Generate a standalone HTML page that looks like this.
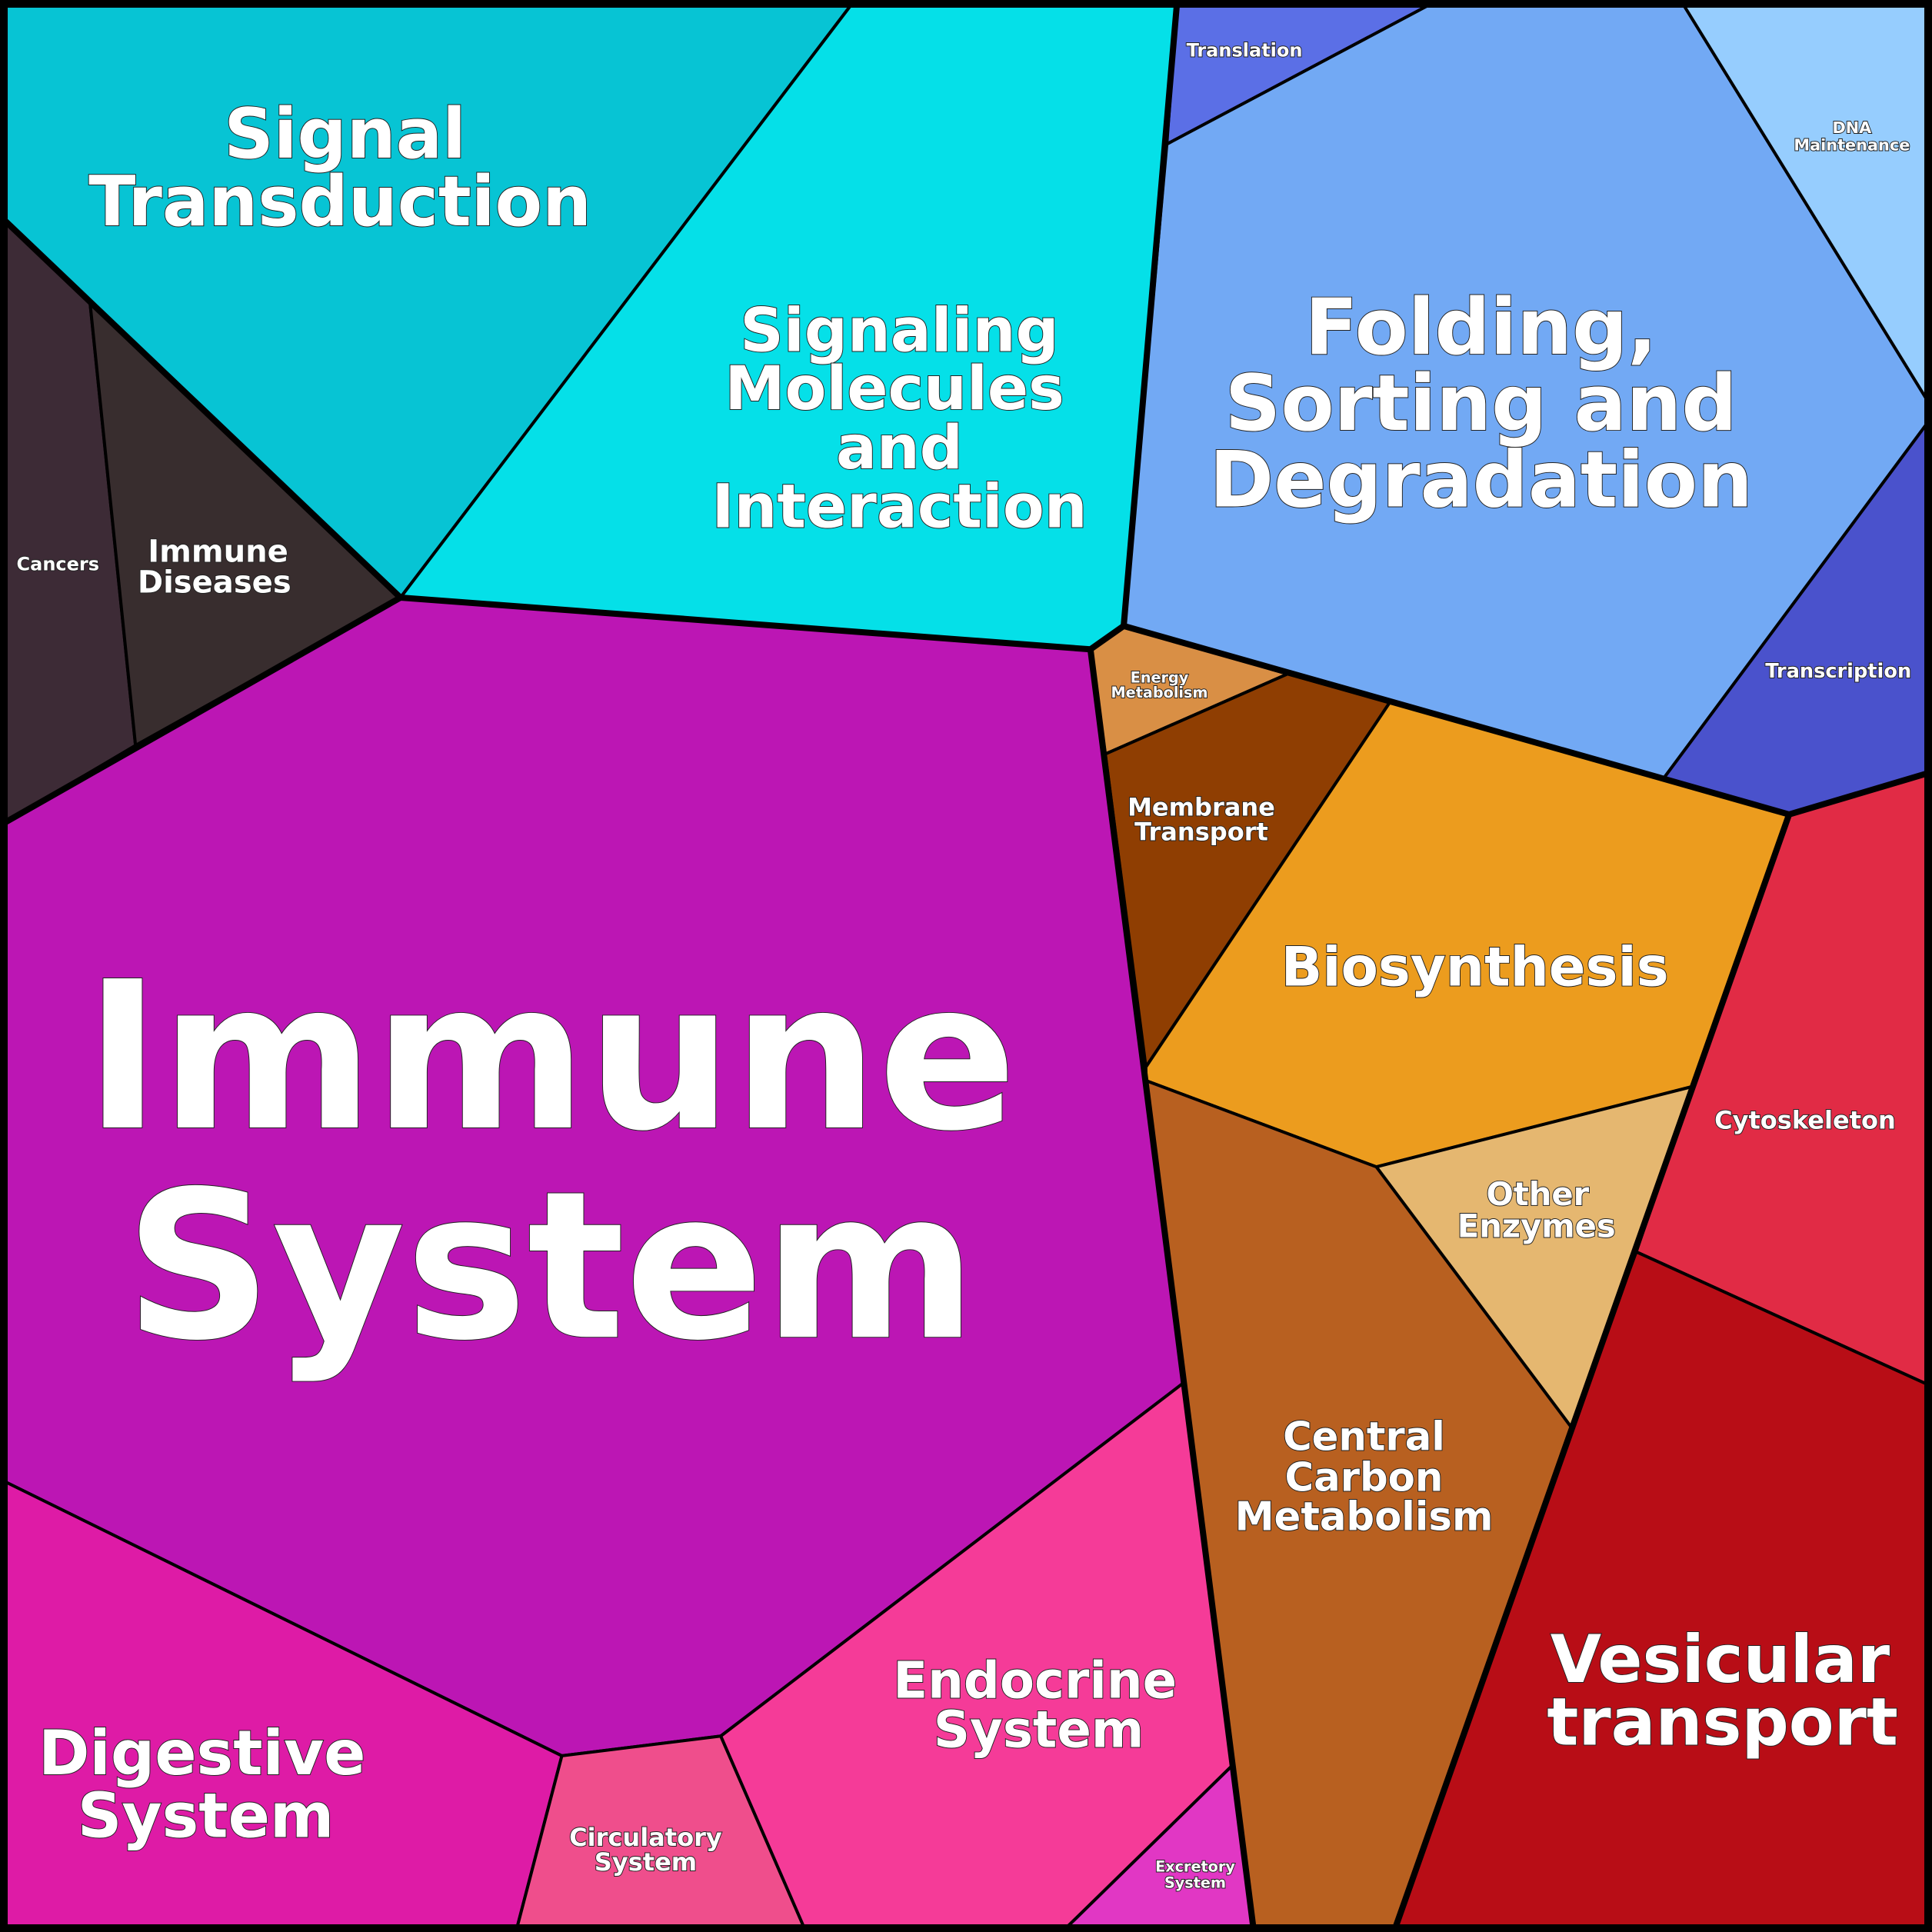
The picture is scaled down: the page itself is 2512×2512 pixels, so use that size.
<!DOCTYPE html>
<html><head><meta charset="utf-8"><style>
html,body{margin:0;padding:0;background:#000;}
svg{display:block;}
text{font-family:"DejaVu Sans","Liberation Sans",sans-serif;font-weight:bold;fill:#fff;text-anchor:middle;paint-order:stroke;stroke:#222;stroke-width:1.2px;}
</style></head><body>
<svg width="2512" height="2512" viewBox="0 0 1568 1568" xmlns="http://www.w3.org/2000/svg">
<rect x="0" y="0" width="1568" height="1568" fill="#000"/>
<g stroke="#000" stroke-width="2.5" stroke-linejoin="round">
<polygon fill="#07c4d4" points="5,5 690,5 325,485 73,245 5,180"/>
<polygon fill="#05e0e8" points="690,5 955,5 947,117 912,508 885,527 325,485"/>
<polygon fill="#5b6fe6" points="955,5 1158,5 947,117"/>
<polygon fill="#72a9f4" points="1158,5 1367,5 1563,323 1563,345 1350,632 912,508 947,117"/>
<polygon fill="#96cdfe" points="1367,5 1563,5 1563,323"/>
<polygon fill="#4a52cc" points="1563,345 1563,628 1452,661 1350,632"/>
<polygon fill="#3d2b36" points="5,180 73,245 110,605 5,667"/>
<polygon fill="#382d2e" points="73,245 325,485 110,605"/>
<polygon fill="#bc16b4" points="5,667 110,605 325,485 885,527 897,612 930,866 930,877 961,1122 585,1409 456,1425 5,1203"/>
<polygon fill="#d98f45" points="885,527 912,508 1045,547 897,612"/>
<polygon fill="#8f3e02" points="897,612 1045,547 1128,570 930,866"/>
<polygon fill="#ec9c1e" points="1128,570 1350,632 1452,661 1373,882 1117,947 930,877 930,866"/>
<polygon fill="#e5b770" points="1117,947 1373,882 1328,1016 1275,1158"/>
<polygon fill="#b86020" points="930,877 1117,947 1275,1158 1133,1563 1017,1563 1000,1433 961,1122"/>
<polygon fill="#e12b45" points="1452,661 1563,628 1563,1123 1328,1016 1373,882"/>
<polygon fill="#b80d16" points="1328,1016 1563,1123 1563,1563 1133,1563 1275,1158"/>
<polygon fill="#de1ba6" points="5,1203 456,1425 420,1563 5,1563"/>
<polygon fill="#ef4e8c" points="456,1425 585,1409 652,1563 420,1563"/>
<polygon fill="#f53b98" points="585,1409 961,1122 1000,1433 867,1563 652,1563"/>
<polygon fill="#e137c4" points="1000,1433 1017,1563 867,1563"/>
</g>
<g stroke="#000" stroke-width="5" fill="none" stroke-linejoin="round" stroke-linecap="round">
<polyline points="5,180 325,485 885,527 912,508 1350,632 1452,661 1563,628"/>
<polyline points="5,667 325,485"/>
<polyline points="885,527 1017,1563"/>
<polyline points="1452,661 1133,1563"/>
<polyline points="955,5 912,508"/>
<rect x="3" y="3" width="1562" height="1562"/>
</g>
<text font-size="56" x="280" y="128">Signal</text>
<text font-size="56" x="276" y="183">Transduction</text>
<text font-size="49" x="730" y="285">Signaling</text>
<text font-size="49" x="726" y="332">Molecules</text>
<text font-size="49" x="730" y="380">and</text>
<text font-size="49" x="730" y="428">Interaction</text>
<text font-size="63" x="1202" y="287">Folding,</text>
<text font-size="63" x="1202" y="349">Sorting and</text>
<text font-size="63" x="1202" y="411">Degradation</text>
<text font-size="15" x="1010" y="46">Translation</text>
<text font-size="13" x="1503" y="108">DNA</text>
<text font-size="13" x="1503" y="122">Maintenance</text>
<text font-size="16" x="1492" y="550">Transcription</text>
<text font-size="15" x="47" y="463">Cancers</text>
<text font-size="25" x="177" y="456">Immune</text>
<text font-size="25" x="174" y="481">Diseases</text>
<text font-size="166" x="447" y="915">Immune</text>
<text font-size="166" x="447" y="1085">System</text>
<text font-size="12" x="941" y="554">Energy</text>
<text font-size="12" x="941" y="566">Metabolism</text>
<text font-size="20" x="975" y="662">Membrane</text>
<text font-size="20" x="975" y="682">Transport</text>
<text font-size="44" x="1197" y="800">Biosynthesis</text>
<text font-size="20" x="1465" y="916">Cytoskeleton</text>
<text font-size="26" x="1248" y="978">Other</text>
<text font-size="26" x="1247" y="1004">Enzymes</text>
<text font-size="32" x="1107" y="1177">Central</text>
<text font-size="32" x="1107" y="1210">Carbon</text>
<text font-size="32" x="1107" y="1242">Metabolism</text>
<text font-size="53.5" x="1396" y="1365">Vesicular</text>
<text font-size="53.5" x="1398" y="1416">transport</text>
<text font-size="50" x="164" y="1440">Digestive</text>
<text font-size="50" x="167" y="1491">System</text>
<text font-size="41" x="840" y="1378">Endocrine</text>
<text font-size="41" x="843" y="1418">System</text>
<text font-size="20" x="524" y="1498">Circulatory</text>
<text font-size="20" x="524" y="1518">System</text>
<text font-size="12" x="970" y="1519">Excretory</text>
<text font-size="12" x="970" y="1532">System</text>
</svg>
</body></html>
